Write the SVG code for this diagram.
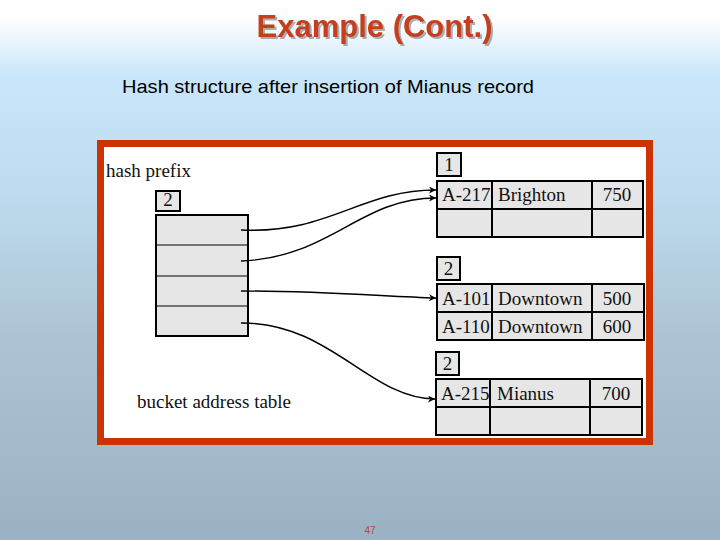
<svg xmlns="http://www.w3.org/2000/svg" width="720" height="540" viewBox="0 0 720 540">
  <defs>
    <linearGradient id="bg" x1="0" y1="0" x2="0" y2="1">
      <stop offset="0" stop-color="#ffffff"/>
      <stop offset="0.04" stop-color="#fbfdff"/>
      <stop offset="0.14" stop-color="#c9e6fa"/>
      <stop offset="0.35" stop-color="#bedcef"/>
      <stop offset="0.62" stop-color="#adc4d6"/>
      <stop offset="1" stop-color="#9ab2c3"/>
    </linearGradient>
    <filter id="shadow" x="-10%" y="-30%" width="120%" height="160%">
      <feDropShadow dx="2" dy="2" stdDeviation="0.6" flood-color="#7a7a7a" flood-opacity="0.6"/>
    </filter>
    <marker id="ah" viewBox="0 0 10 10" refX="10" refY="5" markerWidth="9" markerHeight="7" markerUnits="userSpaceOnUse" orient="auto">
      <path d="M0,0 L10,5 L0,10 L3,5 Z" fill="#000"/>
    </marker>
    <style>
      .serif { font-family: "Liberation Serif", "DejaVu Serif", serif; font-size: 19px; fill: #111; }
      .cell { fill: #e6e6e6; stroke: #000; stroke-width: 2; }
      .grid { stroke: #000; stroke-width: 2; fill: none; }
      .thin { stroke: #000; stroke-width: 1.2; fill: none; }
      .conn { stroke: #000; stroke-width: 1.4; fill: none; marker-end: url(#ah); }
    </style>
  </defs>
  <rect x="0" y="0" width="720" height="540" fill="url(#bg)"/>

  <g id="title">
    <text x="374.5" y="37" text-anchor="middle" font-family="Liberation Sans, Arial, sans-serif" font-weight="bold" font-size="31" fill="#c4401c" filter="url(#shadow)">Example (Cont.)</text>
  </g>
  <text id="subtitle" x="122" y="93" font-family="Liberation Sans, Arial, sans-serif" font-size="19" textLength="412" lengthAdjust="spacingAndGlyphs" fill="#000">Hash structure after insertion of Mianus record</text>

  <g id="frame">
    <rect x="100.5" y="143.5" width="549" height="298" fill="#ffffff" stroke="#cc3300" stroke-width="7"/>
  </g>

  <g id="hash-prefix">
    <text class="serif" x="106" y="177">hash prefix</text>
    <rect class="cell" x="156" y="191" width="24" height="20" stroke-width="1.6"/>
    <text class="serif" x="168" y="206" text-anchor="middle">2</text>
  </g>

  <g id="bucket-address-table">
    <rect class="cell" x="156" y="215" width="92" height="121"/>
    <line class="thin" x1="156" y1="245" x2="248" y2="245"/>
    <line class="thin" x1="156" y1="276" x2="248" y2="276"/>
    <line class="thin" x1="156" y1="306" x2="248" y2="306"/>
    <text class="serif" x="137" y="408">bucket address table</text>
  </g>

  <g id="bucket1">
    <rect class="cell" x="437" y="153" width="24" height="23" stroke-width="1.6"/>
    <text class="serif" x="449" y="171" text-anchor="middle">1</text>
    <rect class="cell" x="437" y="181" width="206" height="56"/>
    <line class="grid" x1="437" y1="209" x2="643" y2="209"/>
    <line class="grid" x1="492" y1="181" x2="492" y2="237"/>
    <line class="grid" x1="592" y1="181" x2="592" y2="237"/>
    <text class="serif" x="442" y="201">A-217</text>
    <text class="serif" x="498" y="201">Brighton</text>
    <text class="serif" x="617" y="201" text-anchor="middle">750</text>
  </g>

  <g id="bucket2">
    <rect class="cell" x="437" y="257" width="23" height="23" stroke-width="1.6"/>
    <text class="serif" x="448.5" y="275" text-anchor="middle">2</text>
    <rect class="cell" x="437" y="284" width="207" height="56"/>
    <line class="grid" x1="437" y1="312" x2="644" y2="312"/>
    <line class="grid" x1="492" y1="284" x2="492" y2="340"/>
    <line class="grid" x1="592" y1="284" x2="592" y2="340"/>
    <text class="serif" x="442" y="305">A-101</text>
    <text class="serif" x="498" y="305">Downtown</text>
    <text class="serif" x="617" y="305" text-anchor="middle">500</text>
    <text class="serif" x="442" y="333">A-110</text>
    <text class="serif" x="498" y="333">Downtown</text>
    <text class="serif" x="617" y="333" text-anchor="middle">600</text>
  </g>

  <g id="bucket3">
    <rect class="cell" x="436" y="352" width="23" height="23" stroke-width="1.6"/>
    <text class="serif" x="447.5" y="370" text-anchor="middle">2</text>
    <rect class="cell" x="436" y="379" width="206" height="56"/>
    <line class="grid" x1="436" y1="407" x2="642" y2="407"/>
    <line class="grid" x1="490" y1="379" x2="490" y2="435"/>
    <line class="grid" x1="590" y1="379" x2="590" y2="435"/>
    <text class="serif" x="441" y="400">A-215</text>
    <text class="serif" x="497" y="400">Mianus</text>
    <text class="serif" x="616" y="400" text-anchor="middle">700</text>
  </g>

  <g id="connectors">
    <path class="conn" d="M241,230 C330,234 360,190 436,190"/>
    <path class="conn" d="M241,261 C330,258 360,198 436,198"/>
    <path class="conn" d="M241,291 C320,291 380,296 436,298"/>
    <path class="conn" d="M241,323 C330,322 370,399 435,399"/>
  </g>

  <text id="page-number" x="370" y="534" text-anchor="middle" font-family="Liberation Sans, Arial, sans-serif" font-size="10" fill="#b04a3a">47</text>
</svg>
